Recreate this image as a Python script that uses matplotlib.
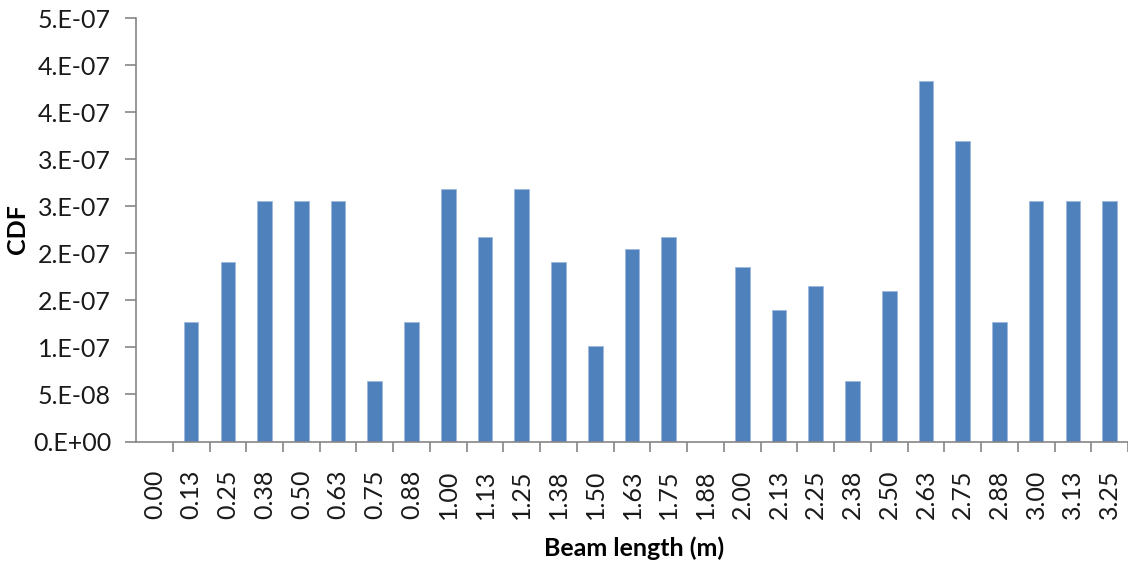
import numpy as np
import matplotlib
matplotlib.use("Agg")
import matplotlib.pyplot as plt

# Beam length categories and CDF values per category
beam_length = ["0.00", "0.13", "0.25", "0.38", "0.50", "0.63", "0.75", "0.88",
               "1.00", "1.13", "1.25", "1.38", "1.50", "1.63", "1.75", "1.88",
               "2.00", "2.13", "2.25", "2.38", "2.50", "2.63", "2.75", "2.88",
               "3.00", "3.13", "3.25"]
cdf = [0.0, 1.275e-7, 1.912e-7, 2.557e-7, 2.557e-7, 2.557e-7, 6.4e-8, 1.275e-7,
       2.684e-7, 2.171e-7, 2.684e-7, 1.912e-7, 1.02e-7, 2.044e-7, 2.171e-7, 0.0,
       1.852e-7, 1.402e-7, 1.657e-7, 6.4e-8, 1.598e-7, 3.835e-7, 3.194e-7, 1.275e-7,
       2.557e-7, 2.557e-7, 2.557e-7]

y_ticks = [0, 5e-8, 1e-7, 1.5e-7, 2e-7, 2.5e-7, 3e-7, 3.5e-7, 4e-7, 4.5e-7]
y_tick_labels = ["0.E+00", "5.E-08", "1.E-07", "2.E-07", "2.E-07",
                 "3.E-07", "3.E-07", "4.E-07", "4.E-07", "5.E-07"]

plt.rcParams["font.family"] = ["Lato", "DejaVu Sans"]
axis_grey = "#868686"

fig = plt.figure(figsize=(11.28, 5.63), dpi=100)
ax = fig.add_axes([0.1206, 0.2158, 0.8794, 0.752])

x = np.arange(len(beam_length))
ax.bar(x, cdf, width=0.4, color="#4F81BD", edgecolor="#9DB9DD", linewidth=0.6)

ax.set_xlim(-0.5, 26.36)
ax.set_ylim(0, 4.5e-7)

ax.set_yticks(y_ticks)
ax.set_yticklabels(y_tick_labels)
ax.set_xticks(x)
ax.set_xticklabels(beam_length, rotation=90)
ax.set_xticks(np.arange(len(beam_length)) + 0.5, minor=True)

ax.tick_params(axis="y", direction="out", length=8, width=1.2, color=axis_grey,
               labelsize=18, pad=10, labelcolor="#1a1a1a")
ax.tick_params(axis="x", which="major", length=0, labelsize=18, pad=20,
               labelcolor="#1a1a1a")
ax.tick_params(axis="x", which="minor", direction="out", length=7, width=1.2,
               color=axis_grey)

for side in ("top", "right"):
    ax.spines[side].set_visible(False)
for side in ("left", "bottom"):
    ax.spines[side].set_color(axis_grey)
    ax.spines[side].set_linewidth(1.2)

ax.set_ylabel("CDF", fontsize=18, fontweight="bold", va="center", ha="center")
ax.yaxis.set_label_coords(-0.119, 0.502)
ax.set_xlabel("Beam length (m)", fontsize=18, fontweight="bold", va="center")
ax.xaxis.set_label_coords((634 - 136) / 992, -0.2515)

fig.savefig("out.png", dpi=100)
